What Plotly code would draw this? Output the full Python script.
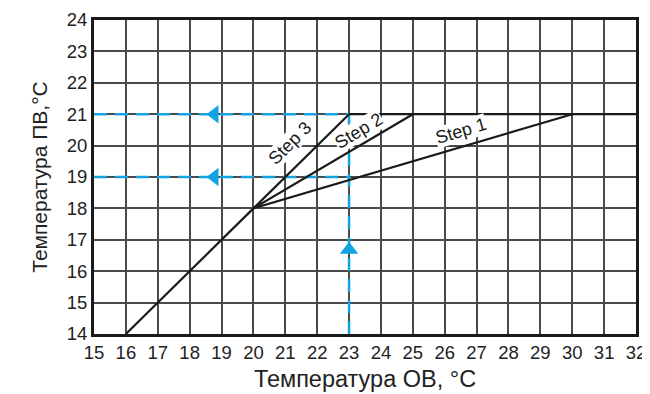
import plotly.graph_objects as go

# Data
base_x = [16, 20]
base_y = [14, 18]
step1_x = [20, 30]
step1_y = [18, 21]
step2_x = [20, 25]
step2_y = [18, 21]
step3_x = [20, 23]
step3_y = [18, 21]
limit_x = [23, 32]
limit_y = [21, 21]

guide_h21_x = [15, 23]
guide_h21_y = [21, 21]
guide_h19_x = [15, 23]
guide_h19_y = [19, 19]
guide_v23_x = [23, 23]
guide_v23_y = [14, 21]

arrow_left_x = [18.78, 18.78]
arrow_left_y = [21, 19]
arrow_up_x = [23]
arrow_up_y = [16.68]

labels = ["Step 1", "Step 2", "Step 3"]
label_x = [26.5, 23.3, 21.15]
label_y = [20.45, 20.45, 20.08]
label_angle = [-16.5, -31, -45]

x_ticks = list(range(15, 33))
y_ticks = list(range(14, 25))

BLUE = "#12a3e3"
FONT = "Liberation Sans, Arial, Helvetica, sans-serif"

fig = go.Figure()

for xs, ys in [(guide_h21_x, guide_h21_y), (guide_h19_x, guide_h19_y), (guide_v23_x, guide_v23_y)]:
    fig.add_trace(go.Scatter(x=xs, y=ys, mode="lines",
                             line=dict(color=BLUE, width=2.5, dash="13px,8px"),
                             hoverinfo="skip", showlegend=False))

for xs, ys in [(base_x, base_y), (step1_x, step1_y), (step2_x, step2_y), (step3_x, step3_y), (limit_x, limit_y)]:
    fig.add_trace(go.Scatter(x=xs, y=ys, mode="lines",
                             line=dict(color="#1a1a1a", width=2.2),
                             hoverinfo="skip", showlegend=False))

fig.add_trace(go.Scatter(x=arrow_left_x, y=arrow_left_y, mode="markers",
                         marker=dict(symbol="triangle-left", size=16, color=BLUE, line=dict(width=0)),
                         hoverinfo="skip", showlegend=False))
fig.add_trace(go.Scatter(x=arrow_up_x, y=arrow_up_y, mode="markers",
                         marker=dict(symbol="triangle-up", size=16, color=BLUE, line=dict(width=0)),
                         hoverinfo="skip", showlegend=False))

for t, x, y, a in zip(labels, label_x, label_y, label_angle):
    fig.add_annotation(x=x, y=y, text=t, textangle=a, showarrow=False,
                       font=dict(family=FONT, size=18, color="#1a1a1a"),
                       bgcolor="white", borderpad=0)

axis_common = dict(
    showgrid=True, gridcolor="#4a4a4a", gridwidth=1.5,
    showline=True, linecolor="#1a1a1a", linewidth=3, mirror=True,
    ticks="", zeroline=False, fixedrange=True, automargin=False,
    tickfont=dict(family=FONT, size=18.5, color="#222"),
)

fig.update_xaxes(range=[15, 32], tickvals=x_ticks, ticktext=[str(v) for v in x_ticks],
                 title=dict(text="Температура ОВ, °C", font=dict(family=FONT, size=23.5, color="#222"), standoff=9),
                 **axis_common)
fig.update_yaxes(range=[14, 24], tickvals=y_ticks, ticktext=[str(v) for v in y_ticks],
                 title=dict(text="Температура ПВ,°C", font=dict(family=FONT, size=21, color="#222"), standoff=14),
                 **axis_common)

fig.update_layout(
    template="none",
    width=642, height=386,
    margin=dict(l=86, r=14, t=12, b=60),
    plot_bgcolor="white", paper_bgcolor="white",
    showlegend=False,
)

fig.write_html("out.html")
